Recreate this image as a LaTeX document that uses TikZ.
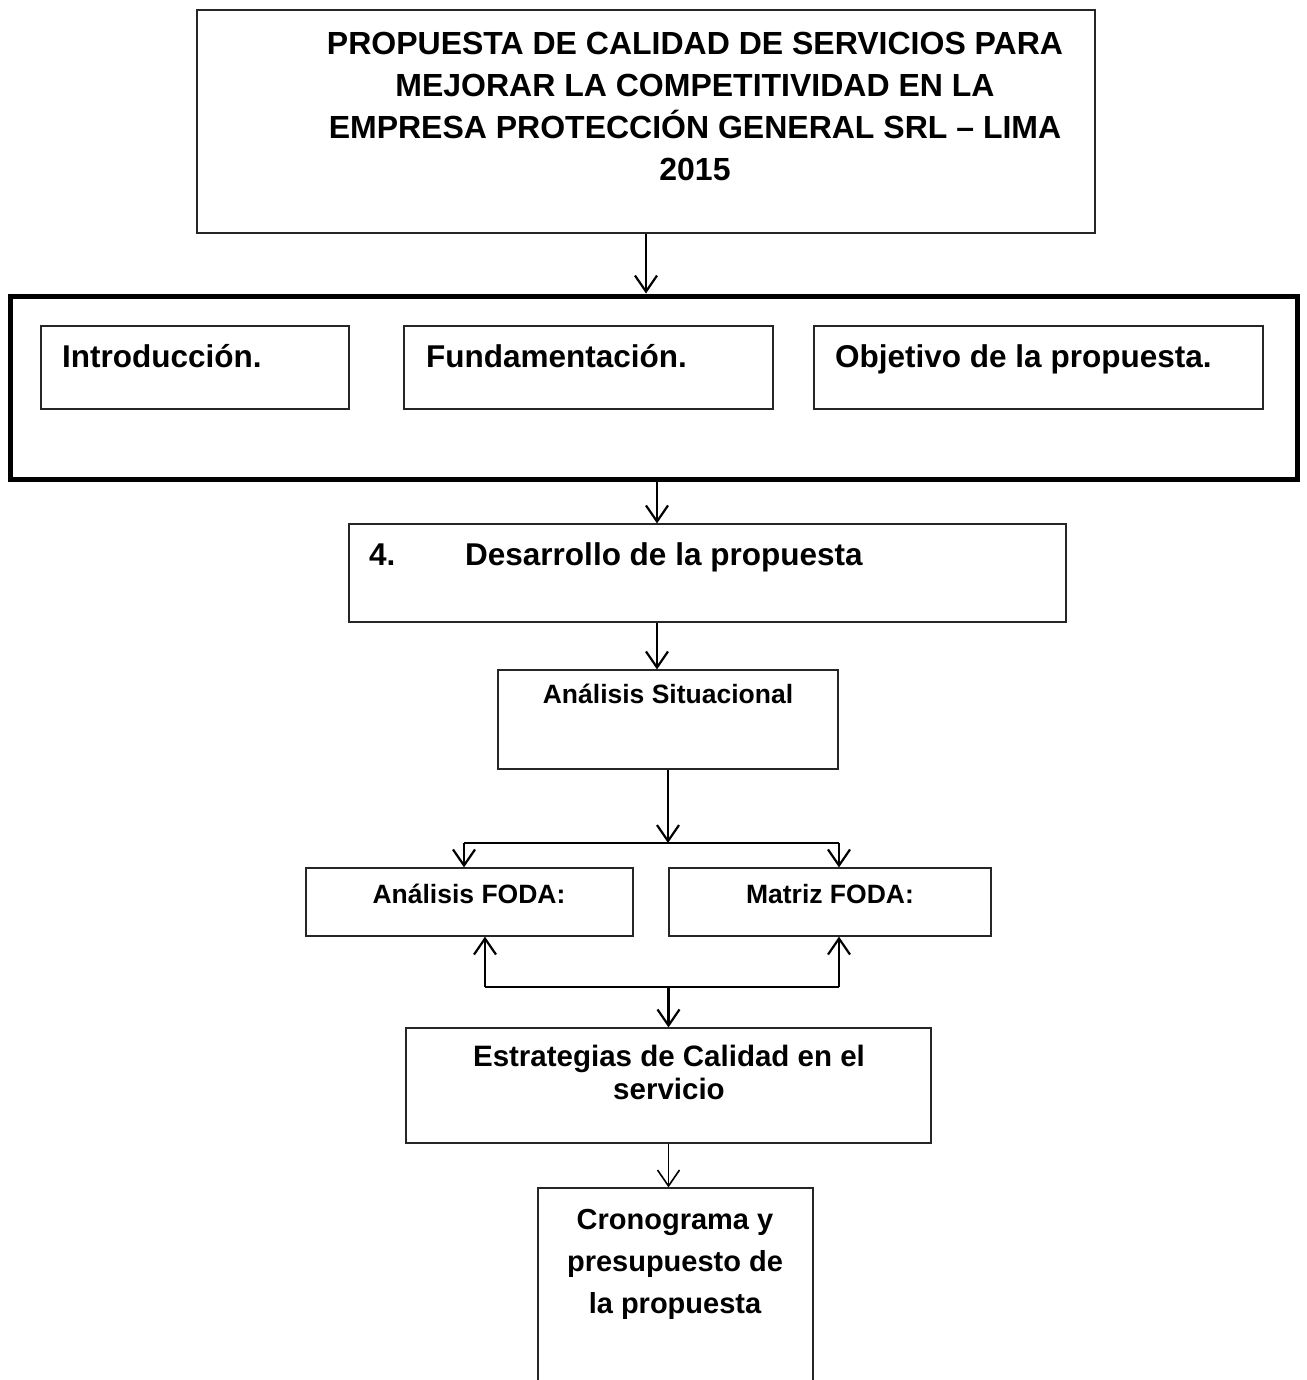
\documentclass[tikz,border=0pt]{standalone}
\usepackage{fontspec}
\setmainfont{Liberation Sans}
\usetikzlibrary{arrows.meta}

\tikzset{
  box/.style={draw=black!85, line width=1.2pt, inner sep=0pt},
  arr/.style={-{Straight Barb[length=16pt,width=22pt]}, line width=2.2pt},
  lbl/.style 2 args={inner sep=0pt, font=\bfseries\fontsize{#1}{#2}\selectfont, align=center},
}

\begin{document}
\begin{tikzpicture}[x=1pt, y=-1pt]
    \useasboundingbox (0,0) rectangle (1306,1380);

    % Title box
    \node[box, minimum width=898pt, minimum height=223pt] (title) at (646,121.5) {};
    \node[lbl={32}{42}] (titletxt) at (695,106) {PROPUESTA DE CALIDAD DE SERVICIOS PARA\\
        MEJORAR LA COMPETITIVIDAD EN LA\\
        EMPRESA PROTECCIÓN GENERAL SRL – LIMA\\
        2015};

    % Heavy frame with the three parts
    \node[draw, line width=5pt, inner sep=0pt, minimum width=1287pt, minimum height=183pt] (frame) at (653.5,387.5) {};
    \node[box, minimum width=308pt, minimum height=83pt] (intro) at (195,367.5) {};
    \node[box, minimum width=369pt, minimum height=83pt] (fund) at (588.5,367.5) {};
    \node[box, minimum width=449pt, minimum height=83pt] (obj) at (1038.5,367.5) {};
    \node[lbl={31.5}{36}, anchor=base west] (introtxt) at (62,367) {Introducción.};
    \node[lbl={31.5}{36}, anchor=base west] (fundtxt) at (426,367) {Fundamentación.};
    \node[lbl={31.5}{36}, anchor=base west] (objtxt) at (835,367) {Objetivo de la propuesta.};

    % Development
    \node[box, minimum width=717pt, minimum height=98pt] (desa) at (707.5,573) {};
    \node[lbl={31.5}{36}, anchor=base west] (numtxt) at (369,565) {4.};
    \node[lbl={31.5}{36}, anchor=base west] (desatxt) at (465,565) {Desarrollo de la propuesta};

    \node[box, minimum width=340pt, minimum height=99pt] (situ) at (668,719.5) {};
    \node[lbl={26.5}{30}, anchor=base] (situtxt) at (668,703) {Análisis Situacional};

    % FODA boxes
    \node[box, minimum width=327pt, minimum height=68pt] (afoda) at (469.5,902) {};
    \node[box, minimum width=322pt, minimum height=68pt] (mfoda) at (830,902) {};
    \node[lbl={26.5}{30}, anchor=base] (afodatxt) at (469,903) {Análisis FODA:};
    \node[lbl={26.5}{30}, anchor=base] (mfodatxt) at (830,903) {Matriz FODA:};

    \node[box, minimum width=525pt, minimum height=115pt] (estr) at (668.5,1085.5) {};
    \node[lbl={29.5}{33}] (estrtxt) at (669,1072) {Estrategias de Calidad en el\\ servicio};

    \node[box, minimum width=275pt, minimum height=204pt] (crono) at (675.5,1290) {};
    \node[lbl={29}{42}] (cronotxt) at (675,1264) {Cronograma y\\ presupuesto de\\ la propuesta};

    % Connectors
    \coordinate (k1) at ([xshift=3.5pt]frame.south);
    \coordinate (split) at (668,843);
    \coordinate (sl) at (464,843);
    \coordinate (sr) at (839,843);
    \coordinate (jl) at (485,987);
    \coordinate (jr) at (839,987);

    \draw[arr] (title.south) -- (title.south |- frame.north);
    \draw[arr] (k1) -- (k1 |- desa.north);
    \draw[arr] (k1 |- desa.south) -- (k1 |- situ.north);
    \draw[arr] (situ.south) -- (split);
    \draw[line width=2.2pt] (sl) -- (sr);
    \draw[arr] (sl) -- (sl |- afoda.north);
    \draw[arr] (sr) -- (sr |- mfoda.north);
    \draw[line width=2.2pt] (jl) -- (jr);
    \draw[arr] (jl) -- (jl |- afoda.south);
    \draw[arr] (jr) -- (jr |- mfoda.south);
    \draw[arr] (estr.north |- jl) -- (estr.north);
    \draw[arr, line width=1.6pt] (estr.south) -- (estr.south |- crono.north);
\end{tikzpicture}
\end{document}
